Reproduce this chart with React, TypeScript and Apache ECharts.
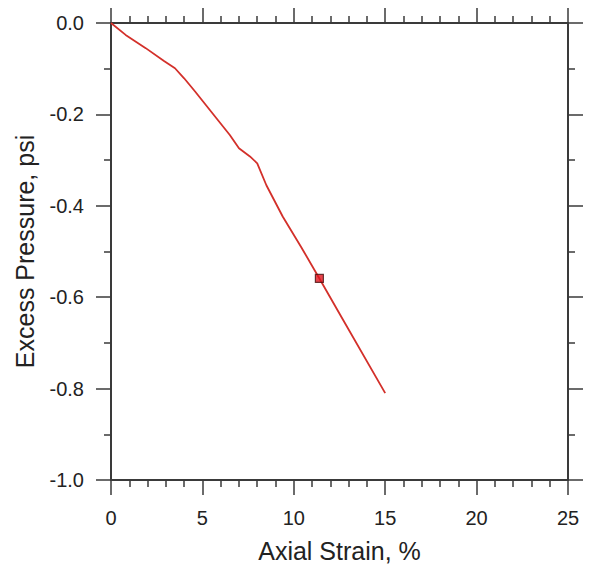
import React, { useEffect, useRef } from "react";
import * as echarts from "echarts";

const strain = [0, 0.8, 1.9, 2.9, 3.5, 4.0, 4.6, 5.2, 5.8, 6.5, 7.0, 7.6, 8.0, 8.5, 9.4, 10.4, 11.4, 12.7, 15.0];
const pressure = [0, -0.026, -0.055, -0.083, -0.099, -0.121, -0.15, -0.18, -0.21, -0.245, -0.274, -0.292, -0.307, -0.355, -0.424, -0.49, -0.559, -0.65, -0.81];
const markerPoint = [11.4, -0.559];

const xTitle = "Axial Strain, %";
const yTitle = "Excess Pressure, psi";

export default function App() {
  const ref = useRef<HTMLDivElement>(null);
  useEffect(() => {
    if (!ref.current) return;
    const chart = echarts.init(ref.current, undefined, { renderer: "svg" });
    const axisColor = "#3a3a3a";
    const font = "Liberation Sans, Arial, Helvetica, sans-serif";
    const common = {
      axisLine: { show: true, onZero: false, lineStyle: { color: axisColor, width: 2 } },
      axisTick: { show: true, inside: false, length: 15, lineStyle: { color: axisColor, width: 1.5 } },
      minorTick: { show: true, length: 7, lineStyle: { color: axisColor, width: 1.5 } },
      splitLine: { show: false },
    };
    chart.setOption({
      animation: false,
      backgroundColor: "#ffffff",
      grid: { left: 111, right: 23, top: 23, bottom: 91 },
      xAxis: [
        {
          type: "value",
          position: "bottom",
          min: 0,
          max: 25,
          interval: 5,
          ...common,
          minorTick: { ...common.minorTick, splitNumber: 5 },
          axisLabel: { margin: 28, fontSize: 20, color: "#222", fontFamily: font },
          name: xTitle,
          nameLocation: "middle",
          nameGap: 58,
          nameTextStyle: { fontSize: 25, color: "#222", fontFamily: font },
        },
        {
          type: "value",
          position: "top",
          min: 0,
          max: 25,
          interval: 5,
          ...common,
          minorTick: { ...common.minorTick, splitNumber: 5 },
          axisLabel: { show: false },
        },
      ],
      yAxis: [
        {
          type: "value",
          position: "left",
          min: -1,
          max: 0,
          interval: 0.2,
          ...common,
          minorTick: { ...common.minorTick, splitNumber: 2 },
          axisLabel: {
            margin: 27,
            fontSize: 20,
            color: "#222",
            fontFamily: font,
            formatter: (v: number) => (Math.abs(v) < 1e-9 ? "0.0" : v.toFixed(1)),
          },
          name: yTitle,
          nameLocation: "middle",
          nameGap: 74,
          nameTextStyle: { fontSize: 25, color: "#222", fontFamily: font },
        },
        {
          type: "value",
          position: "right",
          min: -1,
          max: 0,
          interval: 0.2,
          ...common,
          minorTick: { ...common.minorTick, splitNumber: 2 },
          axisLabel: { show: false },
        },
      ],
      series: [
        {
          type: "line",
          data: strain.map((x, i) => [x, pressure[i]]),
          showSymbol: false,
          symbol: "none",
          lineStyle: { color: "#d3302a", width: 1.8 },
          xAxisIndex: 0,
          yAxisIndex: 0,
          z: 2,
        },
        {
          type: "scatter",
          data: [markerPoint],
          symbol: "rect",
          symbolSize: 8,
          itemStyle: { color: "#e0141e", borderColor: "#4a1010", borderWidth: 1.2 },
          xAxisIndex: 0,
          yAxisIndex: 0,
          z: 3,
        },
      ],
    });
    return () => chart.dispose();
  }, []);
  return <div ref={ref} style={{ width: 591, height: 571, position: "absolute", left: 0, top: 0 }} />;
}
